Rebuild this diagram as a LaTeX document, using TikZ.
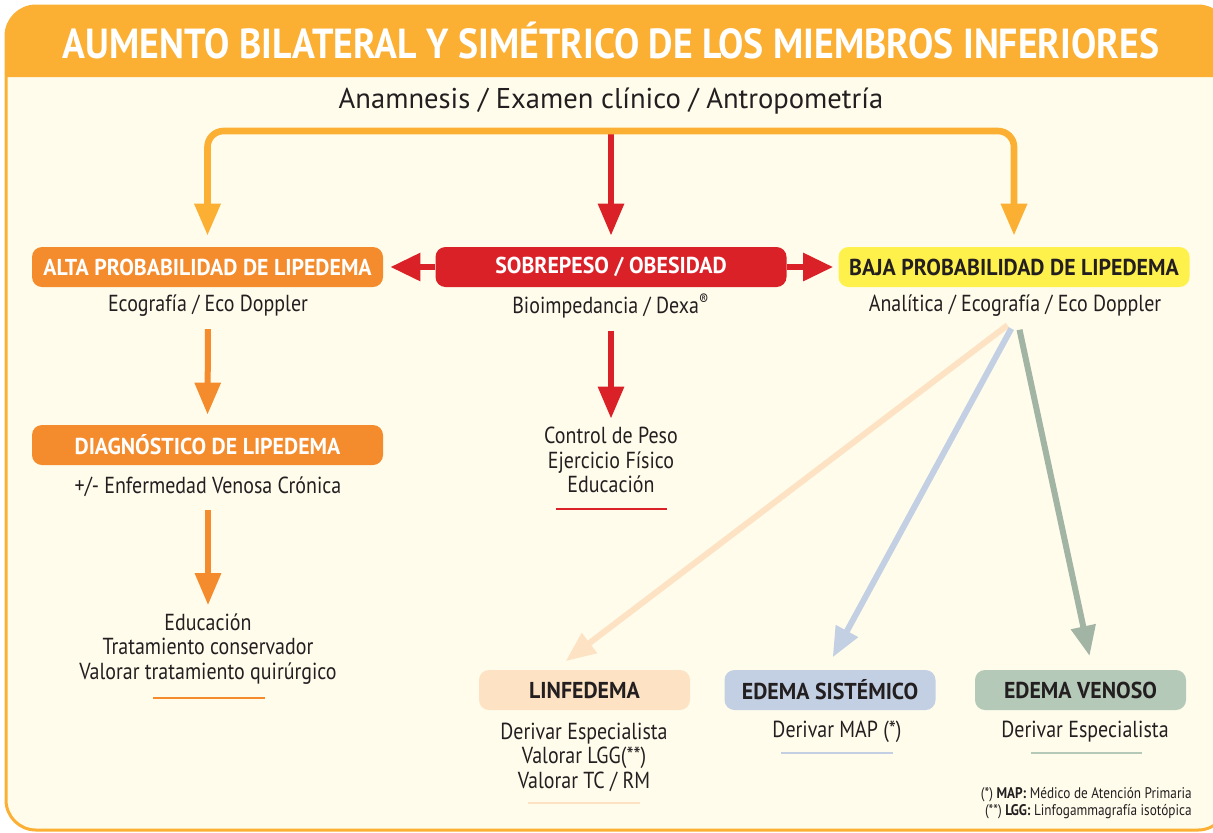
\documentclass[tikz,border=0pt]{standalone}
\usepackage{fontspec}
\setmainfont{PT Sans}[FakeStretch=0.86]
\newfontfamily\leadfont{PT Sans}
\newfontfamily\titlefont{PT Sans}[FakeStretch=0.90]
\newfontfamily\boxfont{PT Sans}[FakeStretch=0.95]
\usetikzlibrary{
    arrows.meta,
    calc,
    positioning
}
\definecolor{frameorange}{HTML}{FBB034}
\definecolor{cream}{HTML}{FFFCEC}
\definecolor{altaorange}{HTML}{F48B2C}
\definecolor{obered}{HTML}{DA2128}
\definecolor{bajayellow}{HTML}{FFF14C}
\definecolor{linfpeach}{HTML}{FDE3C3}
\definecolor{sisblue}{HTML}{C3CFE3}
\definecolor{venogreen}{HTML}{B4C9B8}
\definecolor{inkgray}{HTML}{231F20}
\tikzset{
    topbox/.style={rounded corners=5pt, minimum width=175.5pt, minimum height=20pt, inner sep=0pt,
        font=\boxfont\fontsize{11.5}{13}\selectfont\bfseries},
    lowbox/.style={rounded corners=5pt, minimum width=105.5pt, minimum height=20pt, inner sep=0pt,
        text=inkgray, font=\boxfont\fontsize{11.5}{13}\selectfont\bfseries},
    subtext/.style={text=inkgray, align=center, inner sep=0pt,
        font=\fontsize{11.6}{12.3}\selectfont},
    notetext/.style={text=inkgray, inner sep=0pt, font=\fontsize{7.7}{8.5}\selectfont},
    bigarrow/.style={line width=3.3pt, -{Triangle[width=12.5pt,length=16pt]}},
    slant/.style={line width=3pt, -{Triangle[width=12pt,length=15pt]}, shorten <=6pt, shorten >=7pt},
    underrule/.style={line width=1pt}
}
\begin{document}
\begin{tikzpicture}[x=0.5pt, y=-0.5pt]
\useasboundingbox (0,0) rectangle (1213,832);
\clip (0,0) rectangle (1213,832);
% frame and title band
\fill[cream, rounded corners=15pt] (6,6) rectangle (1228,830);
\fill[frameorange, rounded corners=15pt] (6,77) -- (6,6) -- (1228,6) [sharp corners] -- (1228,77) -- cycle;
\draw[frameorange, line width=1.5pt, rounded corners=15pt] (6,6) rectangle (1228,830);

\node[text=white, inner sep=0pt, font=\titlefont\fontsize{21}{23}\selectfont\bfseries] (title) at (611,41)
    {AUMENTO BILATERAL Y SIMÉTRICO DE LOS MIEMBROS INFERIORES};
\node[text=inkgray, inner sep=0pt, font=\leadfont\fontsize{14.3}{16}\selectfont] (lead) at (611,101)
    {Anamnesis / Examen clínico / Antropometría};
\coordinate (split) at (611,131);

\node[topbox, fill=altaorange, text=white] (alta) at (207.5,267) {ALTA PROBABILIDAD DE LIPEDEMA};
\node[topbox, fill=obered, text=white] (sob) at (611,267) {SOBREPESO / OBESIDAD};
\node[topbox, fill=bajayellow, text=inkgray] (baja) at (1014,267) {BAJA PROBABILIDAD DE LIPEDEMA};
\node[subtext] (altasub) at (208,306) {Ecografía / Eco Doppler};
\node[subtext] (sobsub) at (611,306) {Bioimpedancia / Dexa\textsuperscript{®}};
\node[subtext] (bajasub) at (1015,306) {Analítica / Ecografía / Eco Doppler};
\coordinate (fan) at (1017,318);

\node[topbox, fill=altaorange, text=white] (diag) at (207.5,445) {DIAGNÓSTICO DE LIPEDEMA};
\node[subtext] (diagsub) at (208,487) {+/- Enfermedad Venosa Crónica};
\node[subtext] (trat) at (208,649) {Educación\\Tratamiento conservador\\Valorar tratamiento quirúrgico};
\node[subtext] (peso) at (611,460) {Control de Peso\\Ejercicio Físico\\Educación};

\node[lowbox, fill=linfpeach] (linf) at (584.5,690) {LINFEDEMA};
\node[lowbox, fill=sisblue] (sis) at (830,690) {EDEMA SISTÉMICO};
\node[lowbox, fill=venogreen] (ven) at (1080.5,690) {EDEMA VENOSO};
\node[subtext] (linfsub) at (584,757) {Derivar Especialista\\Valorar LGG(**)\\Valorar TC / RM};
\node[subtext] (sissub) at (837,732) {Derivar MAP (*)};
\node[subtext] (vensub) at (1085,732) {Derivar Especialista};

\node[notetext, anchor=east] (note1) at (1192,795) {(*) \textbf{MAP:} Médico de Atención Primaria};
\node[notetext, anchor=east] (note2) at (1192,812) {(**) \textbf{LGG:} Linfogammagrafía isotópica};

% arrows
\draw[bigarrow, obered, line width=3pt, shorten >=5.5pt] (split) -- (sob.north);
\draw[bigarrow, frameorange, rounded corners=8pt, shorten >=5.5pt] (split) -| (alta.north);
\draw[bigarrow, frameorange, rounded corners=8pt, shorten >=5.5pt] (split) -| (baja.north);
\draw[bigarrow, obered, line width=3pt, -{Triangle[width=13.5pt,length=15pt]}, shorten >=3.5pt] (sob.west) -- (alta.east);
\draw[bigarrow, obered, line width=3pt, -{Triangle[width=13.5pt,length=15pt]}, shorten >=2.5pt] (sob.east) -- (baja.west);
\draw[bigarrow, altaorange, line width=3pt, shorten <=6pt, shorten >=5pt] (altasub.south) -- (diag.north);
\draw[bigarrow, altaorange, line width=3pt, shorten <=6.5pt, shorten >=4pt] (diagsub.south) -- (trat.north);
\draw[bigarrow, obered, line width=3pt, shorten <=6pt, shorten >=4pt] (sobsub.south) -- (peso.north);
\draw[slant, linfpeach] (fan) -- ([xshift=-15pt]linf.north);
\draw[slant, sisblue] (fan) -- ([xshift=-2pt]sis.north);
\draw[slant, venogreen!90!black] (fan) -- ([xshift=6pt]ven.north);

% rules under the texts
\draw[underrule, altaorange] (153,698) -- (265,698);
\draw[underrule, obered] (556,509) -- (667,509);
\draw[underrule, linfpeach] (528,803) -- (640,803);
\draw[underrule, sisblue] (781,753) -- (893,753);
\draw[underrule, venogreen] (1031,753) -- (1142,753);
\end{tikzpicture}
\end{document}
